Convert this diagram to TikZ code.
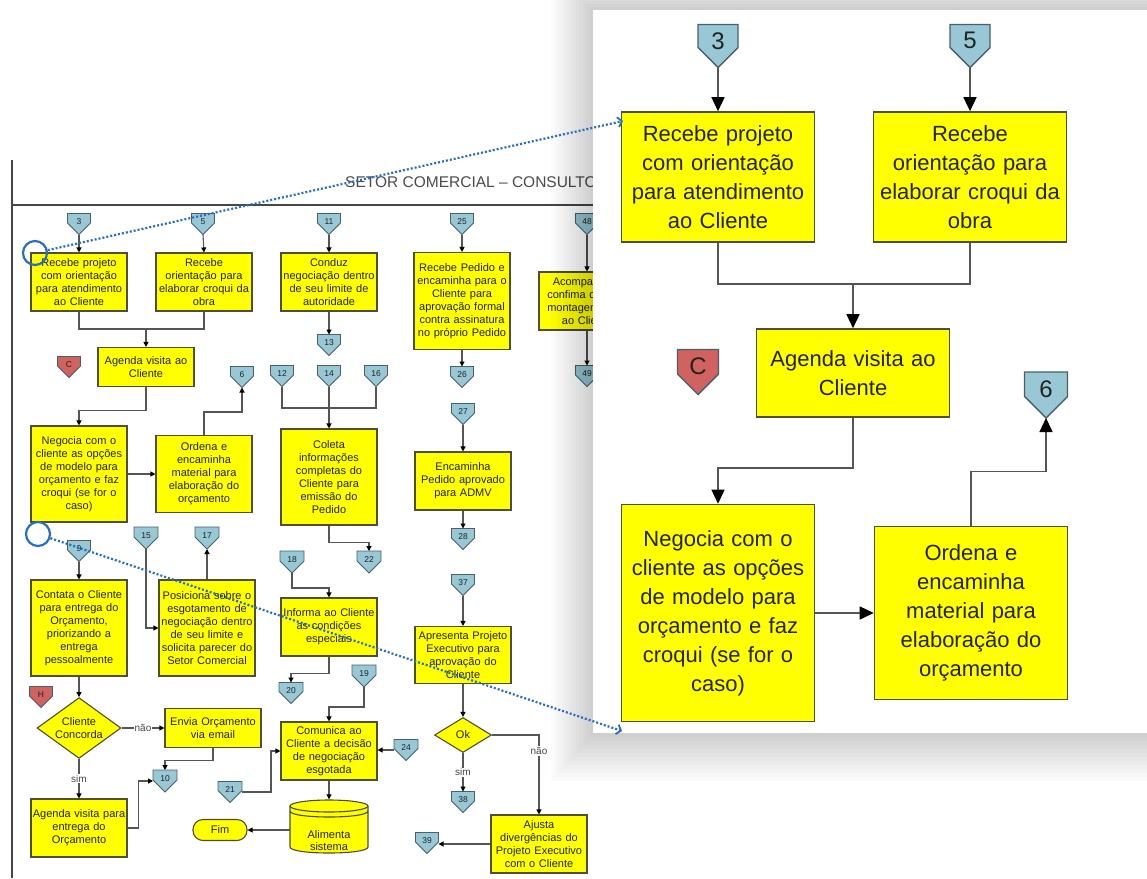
\documentclass[tikz,border=0pt]{standalone}
\usepackage{fontspec}
\setmainfont{Liberation Sans}
\usetikzlibrary{arrows.meta,shapes.geometric,calc}
\definecolor{boxyellow}{RGB}{255,255,0}
\definecolor{boxline}{RGB}{78,78,60}
\definecolor{connblue}{RGB}{152,200,214}
\definecolor{connred}{RGB}{208,98,96}
\definecolor{connline}{RGB}{75,95,105}
\definecolor{flowline}{RGB}{85,85,85}
\definecolor{txt}{RGB}{35,35,30}
\definecolor{zoomblue}{RGB}{40,110,195}
\definecolor{framegray}{RGB}{70,70,70}
\definecolor{titlegray}{RGB}{75,75,75}
\definecolor{labgray}{RGB}{70,70,70}

\tikzset{
  lbox/.style={draw=boxline, fill=boxyellow, line width=1.1pt, inner sep=0pt,
    minimum width=96pt, text width=96pt, align=center,
    font=\fontsize{11}{13}\selectfont, text=txt},
  pbox/.style={draw=boxline, fill=boxyellow, line width=1.6pt, inner sep=0pt,
    minimum width=193pt, text width=193pt, align=center,
    font=\fontsize{22}{29}\selectfont, text=txt},
  cdia/.style={diamond, draw=boxline, fill=boxyellow, line width=1.1pt,
    inner sep=-2pt, align=center, font=\fontsize{11}{13}\selectfont, text=txt},
  term/.style={draw=boxline, fill=boxyellow, line width=1.1pt, rounded corners=10pt,
    minimum width=54pt, minimum height=21pt, inner sep=0pt,
    font=\fontsize{11}{13}\selectfont, text=txt},
  cylbox/.style={inner sep=0pt, minimum width=78pt, minimum height=53pt},
  cylline/.style={draw=boxline, line width=1.1pt},
  lln/.style={draw=flowline, line width=1.1pt},
  larr/.style={lln, -{Triangle[length=5pt,width=5pt,color=black]}},
  pln/.style={draw=flowline, line width=1.5pt},
  parr/.style={pln, -{Triangle[length=14pt,width=13pt,color=black]}},
  lab/.style={fill=white, inner sep=1pt, font=\fontsize{10}{11}\selectfont, text=labgray},
  connshape/.style={draw=connline},
  connbox/.style={inner sep=0pt, outer sep=0pt},
  conntext/.style={inner sep=0pt, text=txt},
  csmall/.style={line width=0.9pt, font=\fontsize{8.5}{9}\selectfont},
  cbig/.style={line width=1.4pt, font=\fontsize{24}{26}\selectfont},
  zoomcirc/.style={circle, draw=zoomblue, line width=2.2pt, minimum size=24pt, inner sep=0pt},
  zoomarrow/.style={draw=zoomblue, line width=2.2pt, dash pattern=on 2pt off 2pt,
    -{Straight Barb[length=4pt,width=10pt,line width=1.8pt]}},
}

% name, x, y, width, height, label, fill, variant
\newcommand\offpg[8]{%
  \draw[connshape, #8, fill=#7] ({#2-#4/2},{#3-#5/2}) -- ({#2+#4/2},{#3-#5/2})
    -- ({#2+#4/2},{#3+#5/2-#4/2}) -- (#2,{#3+#5/2}) -- ({#2-#4/2},{#3+#5/2-#4/2}) -- cycle;
  \node[connbox, minimum width=#4, minimum height=#5] (#1) at (#2,#3) {};
  \node[conntext, #8] (#1-t) at (#2,{#3-0.12*#5}) {#6};
}

\begin{document}
\begin{tikzpicture}[x=1pt, y=-1pt]
\useasboundingbox (0,0) rectangle (1147,878);
\clip (0,0) rectangle (1147,878);
\fill[white] (0,0) rectangle (1147,878);

% ================= left diagram =================
\begin{scope}
\clip (0,0) rectangle (593,878);
\draw[framegray, line width=1.5pt] (12,160) -- (12,878);
\draw[framegray, line width=1.5pt] (12,205) -- (600,205);
\node[anchor=base west, inner sep=0pt, font=\fontsize{15.5}{16}\selectfont, text=titlegray]
  (title) at (345,187) {SETOR COMERCIAL – CONSULTOR};

% connectors
\offpg{c3}{79}{224}{23}{21}{3}{connblue}{csmall}
\offpg{c5}{203}{224}{23}{21}{5}{connblue}{csmall}
\offpg{c11}{329}{224}{23}{21}{11}{connblue}{csmall}
\offpg{c25}{462}{224}{23}{21}{25}{connblue}{csmall}
\offpg{c48}{587}{224}{23}{21}{48}{connblue}{csmall}
\offpg{cC}{69}{367}{23}{21}{C}{connred}{csmall}
\offpg{c6}{242}{377}{23}{21}{6}{connblue}{csmall}
\offpg{c12}{282}{376}{23}{21}{12}{connblue}{csmall}
\offpg{c14}{329}{376}{23}{21}{14}{connblue}{csmall}
\offpg{c16}{376}{376}{23}{21}{16}{connblue}{csmall}
\offpg{c13}{329}{345}{23}{21}{13}{connblue}{csmall}
\offpg{c26}{462}{377}{23}{21}{26}{connblue}{csmall}
\offpg{c49}{587}{376}{23}{21}{49}{connblue}{csmall}
\offpg{c27}{463}{414}{23}{21}{27}{connblue}{csmall}
\offpg{c28}{463}{539}{23}{21}{28}{connblue}{csmall}
\offpg{c9}{79}{551}{23}{21}{9}{connblue}{csmall}
\offpg{c15}{146}{538}{24}{22}{15}{connblue}{csmall}
\offpg{c17}{207}{538}{24}{22}{17}{connblue}{csmall}
\offpg{c22}{369}{562}{24}{22}{22}{connblue}{csmall}
\offpg{c18}{292}{562}{24}{22}{18}{connblue}{csmall}
\offpg{c37}{463}{585}{23}{21}{37}{connblue}{csmall}
\offpg{cH}{41}{697}{23}{21}{H}{connred}{csmall}
\offpg{c20}{291}{693}{24}{21}{20}{connblue}{csmall}
\offpg{c19}{364}{676}{24}{22}{19}{connblue}{csmall}
\offpg{c10}{165}{781}{24}{22}{10}{connblue}{csmall}
\offpg{c21}{230}{792}{24}{21}{21}{connblue}{csmall}
\offpg{c24}{406}{750}{24}{21}{24}{connblue}{csmall}
\offpg{c38}{463}{802}{23}{21}{38}{connblue}{csmall}
\offpg{c39}{427}{843}{23}{21}{39}{connblue}{csmall}

% process boxes
\node[lbox, minimum height=58pt] (A1) at (79,282) {Recebe projeto\\com orientação\\para atendimento\\ao Cliente};
\node[lbox, minimum height=58pt] (A2) at (204,282) {Recebe\\orientação para\\elaborar croqui da\\obra};
\node[lbox, minimum height=39pt] (Ag) at (146,367) {Agenda visita ao\\Cliente};
\node[lbox, minimum height=96pt] (Neg) at (79,474) {Negocia com o\\cliente as opções\\de modelo para\\orçamento e faz\\croqui (se for o\\caso)};
\node[lbox, minimum height=77pt] (Ord) at (204,474) {Ordena e\\encaminha\\material para\\elaboração do\\orçamento};
\node[lbox, minimum height=58pt] (Cond) at (329,282) {Conduz\\negociação dentro\\de seu limite de\\autoridade};
\node[lbox, minimum height=96pt] (Col) at (329,477) {Coleta\\informações\\completas do\\Cliente para\\emissão do\\Pedido};
\node[lbox, minimum height=97pt] (RecP) at (462,301) {Recebe Pedido e\\encaminha para o\\Cliente para\\aprovação formal\\contra assinatura\\no próprio Pedido};
\node[lbox, minimum height=58pt] (Enc) at (463,481) {Encaminha\\Pedido aprovado\\para ADMV};
\node[lbox, minimum height=58pt] (Acp) at (587,301) {Acompanha e\\confima data da\\montagem junto\\ao Cliente};
\node[lbox, minimum height=96pt] (Cont) at (79,628) {Contata o Cliente\\para entrega do\\Orçamento,\\priorizando a\\entrega\\pessoalmente};
\node[lbox, minimum height=96pt] (Pos) at (207,628) {Posiciona sobre o\\esgotamento de\\negociação dentro\\de seu limite e\\solicita parecer do\\Setor Comercial};
\node[lbox, minimum height=58pt] (Inf) at (329,627) {Informa ao Cliente\\as condições\\especiais};
\node[lbox, minimum height=39pt] (Env) at (213,728) {Envia Orçamento\\via email};
\node[lbox, minimum height=58pt] (Ag2) at (79,828) {Agenda visita para\\entrega do\\Orçamento};
\node[lbox, minimum height=58pt] (Com) at (329,751) {Comunica ao\\Cliente a decisão\\de negociação\\esgotada};
\node[lbox, minimum height=57pt] (Apr) at (463,655) {Apresenta Projeto\\Executivo para\\aprovação do\\Cliente};
\node[lbox, minimum height=58pt] (Ajs) at (539,844) {Ajusta\\divergências do\\Projeto Executivo\\com o Cliente};

% decisions
\node[cdia, minimum width=84pt, minimum height=50pt] (CC) at (79,728) {Cliente\\Concorda};
\node[cdia, minimum width=57pt, minimum height=35pt] (Ok) at (463,735) {Ok};

% terminator
\node[term] (Fim) at (220,830) {Fim};

% data store (cylinder)
\fill[boxyellow] (290,806) rectangle (368,847);
\fill[boxyellow] (329,847) ellipse [x radius=39, y radius=6];
\draw[cylline] (290,806) -- (290,847) .. controls (290,855) and (368,855) .. (368,847) -- (368,806);
\draw[cylline, fill=boxyellow] (329,806) ellipse [x radius=39, y radius=6];
\draw[cylline] (290,811) .. controls (290,819) and (368,819) .. (368,811);
\node[cylbox] (alim) at (329,826) {};
\node[conntext, align=center, font=\fontsize{11}{12}\selectfont] (alim-t) at (329,841) {Alimenta\\sistema};

% flow lines
\coordinate (m1) at (146,329);
\coordinate (m2) at (329,408);
\draw[larr] (c3.south) -- (A1.north);
\draw[larr] (c5.south) -- (A2.north);
\draw[lln] (A1.south) |- (m1) -| (A2.south);
\draw[larr] (m1) -- (Ag.north);
\draw[larr] (Ag.south) -- ++(0,23) -| (Neg.north);
\draw[larr] (Neg.east) -- (Ord.west);
\draw[larr] (Ord.north) -- ++(0,-23) -| (c6.south);
\draw[larr] (c11.south) -- (Cond.north);
\draw[larr] (Cond.south) -- (c13.north);
\draw[lln] (c12.south) |- (m2) -| (c16.south);
\draw[larr] (c14.south) -- (Col.north);
\draw[larr] (Col.south) -- ++(0,17) -| (c22.north);
\draw[larr] (c25.south) -- (RecP.north);
\draw[larr] (RecP.south) -- (c26.north);
\draw[larr] (c48.south) -- (Acp.north);
\draw[larr] (Acp.south) -- (c49.north);
\draw[larr] (c27.south) -- (Enc.north);
\draw[larr] (Enc.south) -- (c28.north);
\draw[larr] (c9.south) -- (Cont.north);
\draw[larr] (c15.south) |- (Pos.west);
\draw[larr] (Pos.north) -- (c17.south);
\draw[larr] (c18.south) -- ++(0,15) -| (Inf.north);
\draw[larr] (Inf.south) -- ++(0,17) -| (c20.north);
\draw[larr] (c19.south) -- ++(0,20) -| (Com.north);
\draw[larr] (c24.west) -- (c24.west -| Com.east);
\draw[larr] (c21.east) -- ++(29,0) |- (Com.west);
\draw[larr] (Com.south) -- (alim.north);
\coordinate (aw) at ($(alim.west)+(0,4)$);
\draw[larr] (aw) -- (aw -| Fim.east);
\draw[larr] (c37.south) -- (Apr.north);
\draw[larr] (Apr.south) -- (Ok.north);
\draw[larr] (Ok.south) -- node[lab] {sim} (c38.north);
\draw[larr] (Ok.east) -| node[lab, pos=0.6] {não} (Ajs.north);
\draw[larr] (Ajs.west) -- (Ajs.west -| c39.east);
\draw[larr] (Cont.south) -- (CC.north);
\draw[larr] (CC.east) -- node[lab] {não} (CC.east -| Env.west);
\draw[larr] (CC.south) -- node[lab] {sim} (Ag2.north);
\draw[larr] (Env.south) -- ++(0,12) -| (c10.north);
\draw[larr] (Ag2.east) -- ++(11,0) |- (c10.west);
\end{scope}

% ================= shadow of zoom panel =================
\foreach \k in {1,...,12} {
  \fill[black, opacity=0.015] ({593-3.5*\k},{10-3*\k}) rectangle (1160,{733+4*\k});
}
\fill[white] (593,10) rectangle (1147,733);

% ================= zoom panel =================
\offpg{p3}{718}{46}{40}{43}{3}{connblue}{cbig}
\offpg{p5}{970}{46}{40}{43}{5}{connblue}{cbig}
\offpg{pC}{698}{372}{41}{45}{C}{connred}{cbig}
\offpg{p6}{1046}{395}{43}{46}{6}{connblue}{cbig}

\node[pbox, minimum height=130pt] (pA1) at (718,177) {Recebe projeto\\com orientação\\para atendimento\\ao Cliente};
\node[pbox, minimum height=130pt] (pA2) at (970,177) {Recebe\\orientação para\\elaborar croqui da\\obra};
\node[pbox, minimum height=88pt] (pAg) at (853,373) {Agenda visita ao\\Cliente};
\node[pbox, minimum height=217pt] (pNeg) at (718,613) {Negocia com o\\cliente as opções\\de modelo para\\orçamento e faz\\croqui (se for o\\caso)};
\node[pbox, minimum height=173pt] (pOrd) at (971,613) {Ordena e\\encaminha\\material para\\elaboração do\\orçamento};

\coordinate (pm) at (853,284);
\draw[parr] (p3.south) -- (pA1.north);
\draw[parr] (p5.south) -- (pA2.north);
\draw[pln] (pA1.south) |- (pm) -| (pA2.south);
\draw[parr] (pm) -- (pAg.north);
\draw[parr] (pAg.south) -- ++(0,50) -| (pNeg.north);
\draw[parr] (pNeg.east) -- (pOrd.west);
\draw[parr] (pOrd.north) -- ++(0,-54) -| (p6.south);

% ================= zoom markers =================
\node[zoomcirc] (o1) at (35,253) {};
\node[zoomcirc] (o2) at (38,534) {};
\coordinate (t1) at (623,121);
\coordinate (t2) at (622,731);
\draw[zoomarrow] (o1) -- (t1);
\draw[zoomarrow] (o2) -- (t2);
\end{tikzpicture}
\end{document}
